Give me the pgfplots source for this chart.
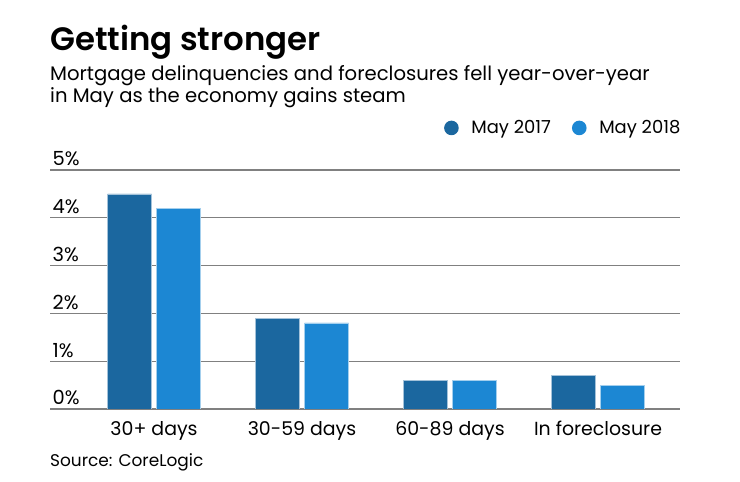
\documentclass[border=0pt]{standalone}
\usepackage{pgfplots}
\pgfplotsset{compat=1.18}
\usepackage{fontspec}
\setmainfont{Poppins}[BoldFont={* SemiBold}]
\definecolor{dark17}{HTML}{1B679F}
\definecolor{light18}{HTML}{1C87D3}
\definecolor{gridgray}{HTML}{808080}
\begin{document}
\begin{tikzpicture}[x=1bp,y=1bp]
\path[use as bounding box] (0,0) rectangle (740,482);
\node[anchor=base west, inner sep=0pt, font=\fontsize{32.5}{36}\selectfont\bfseries] at (50,431) {Getting stronger};
\node[anchor=base west, inner sep=0pt, font=\fontsize{19.7}{22}\selectfont] at (50,401) {Mortgage delinquencies and foreclosures fell year-over-year};
\node[anchor=base west, inner sep=0pt, font=\fontsize{19.7}{22}\selectfont] at (50,379) {in May as the economy gains steam};
\node[anchor=base west, inner sep=0pt, font=\fontsize{17}{20}\selectfont] at (50,15) {Source: CoreLogic};
\begin{axis}[
    at={(50bp,73bp)}, anchor=south west,
    scale only axis,
    width=630bp, height=239bp,
    xmin=-0.703, xmax=3.554,
    ymin=0, ymax=5,
    ybar=5bp, bar width=44bp,
    axis line style={draw=none},
    tick style={draw=none},
    ymajorgrids,
    major grid style={gridgray, line width=1.3bp},
    ytick={0,1,2,3,4,5},
    yticklabels={0\%,1\%,2\%,3\%,4\%,5\%},
    yticklabel style={anchor=base west, inner sep=0pt, xshift=2.5bp, yshift=4bp, font=\fontsize{19.5}{21}\selectfont},
    xtick=data,
    xticklabels={30+ days,30-59 days,60-89 days,In foreclosure},
    xticklabel style={anchor=base, inner sep=0pt, yshift=-22bp, font=\fontsize{19}{21}\selectfont},
    legend columns=2,
    legend style={draw=none, fill=none, at={(rel axis cs:1.004,1.176)}, anchor=east, inner sep=0pt,
        font=\fontsize{18}{20}\selectfont, /tikz/every even column/.append style={column sep=19bp}},
    legend image code/.code={\fill[#1, draw=none] (0bp,0bp) circle (7.3bp); \path[draw=none, fill=none] (-7.3bp,0bp) -- (18bp,0bp);},
]
\addplot[fill=dark17, draw=white!60!dark17, line width=0.6bp] coordinates {(0,4.5) (1,1.9) (2,0.6) (3,0.7)};
\addlegendentry{May 2017}
\addplot[fill=light18, draw=white!60!light18, line width=0.6bp] coordinates {(0,4.2) (1,1.8) (2,0.6) (3,0.5)};
\addlegendentry{May 2018}
\end{axis}
\end{tikzpicture}
\end{document}
